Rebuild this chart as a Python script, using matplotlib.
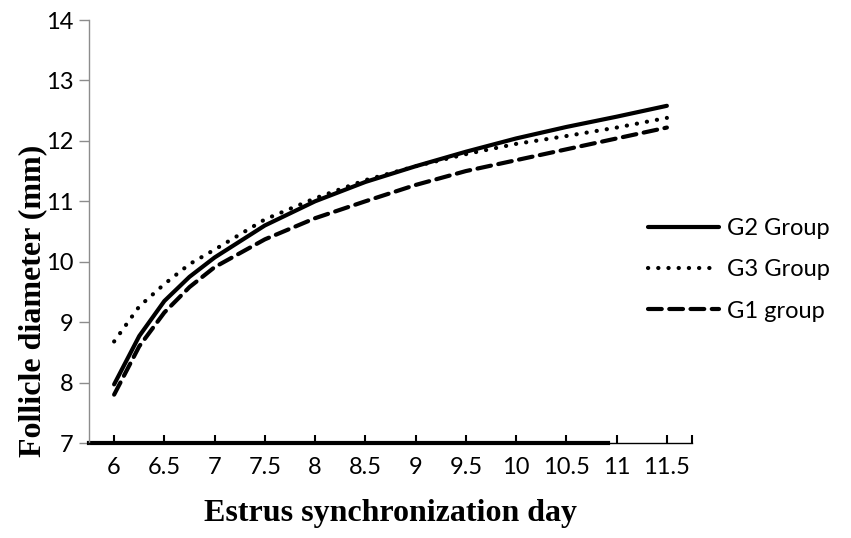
import matplotlib.pyplot as plt

days = [6, 6.25, 6.5, 6.75, 7, 7.5, 8, 8.5, 9, 9.5, 10, 10.5, 11, 11.5]
g2 = [7.97, 8.77, 9.35, 9.75, 10.07, 10.6, 11.0, 11.32, 11.58, 11.82, 12.04, 12.23, 12.4, 12.58]
g3 = [8.68, 9.26, 9.63, 9.96, 10.2, 10.7, 11.05, 11.35, 11.58, 11.78, 11.95, 12.08, 12.22, 12.38]
g1 = [7.8, 8.6, 9.16, 9.58, 9.91, 10.37, 10.72, 11.0, 11.27, 11.5, 11.68, 11.86, 12.04, 12.22]

xticks = [6, 6.5, 7, 7.5, 8, 8.5, 9, 9.5, 10, 10.5, 11, 11.5]
xlabels = ["6", "6.5", "7", "7.5", "8", "8.5", "9", "9.5", "10", "10.5", "11", "11.5"]
yticks = [7, 8, 9, 10, 11, 12, 13, 14]

fig = plt.figure(figsize=(8.51, 5.38), dpi=100)
ax = fig.add_axes([89/851, 1 - 443/538, (692 - 89)/851, (443 - 20)/538])

ax.plot(days, g2, color="black", lw=3, solid_capstyle="round", label="G2 Group")
ax.plot(days, g3, color="black", lw=3, linestyle=(0, (0.05, 2.4)),
        dash_capstyle="round", label="G3 Group")
ax.plot(days, g1, color="black", lw=3, linestyle=(0, (3.3, 1.8)),
        dash_capstyle="round", label="G1 group")

ax.set_xlim(5.75, 11.75)
ax.set_ylim(7, 14)

tickfont = "Lato"
ax.set_xticks(xticks)
ax.set_xticklabels(xlabels, fontsize=17, family=tickfont)
ax.set_xticks([11.75], minor=True)
ax.set_yticks(yticks)
ax.set_yticklabels([str(v) for v in yticks], fontsize=17, family=tickfont)

ax.spines["top"].set_visible(False)
ax.spines["right"].set_visible(False)
ax.spines["left"].set_color("#8c8c8c")
ax.spines["left"].set_linewidth(1)
ax.spines["bottom"].set_color("black")
ax.spines["bottom"].set_linewidth(1)
# thick part of the x axis line
ax.axhline(7, xmin=0, xmax=0.86, color="black", lw=3, clip_on=False)

ax.tick_params(axis="y", direction="out", length=7, width=1, color="#8c8c8c", pad=4)
ax.tick_params(axis="x", which="both", direction="in", length=6, width=1.5,
               color="black", pad=10)

ax.set_xlabel("Estrus synchronization day", fontsize=23, fontweight="bold",
              family="Liberation Serif", labelpad=15)
ax.set_ylabel("Follicle diameter (mm)", fontsize=23, fontweight="bold",
              family="Liberation Serif", va="center")
ax.yaxis.set_label_coords(-0.094, 0.335)

ax.legend(loc="center left", bbox_to_anchor=(648/851, 1 - 270/538),
          bbox_transform=fig.transFigure, frameon=False,
          prop={"family": tickfont, "size": 17}, handlelength=3.0,
          handletextpad=0.35, labelspacing=0.85, borderpad=0, borderaxespad=0)

fig.savefig("out.png", dpi=100)
